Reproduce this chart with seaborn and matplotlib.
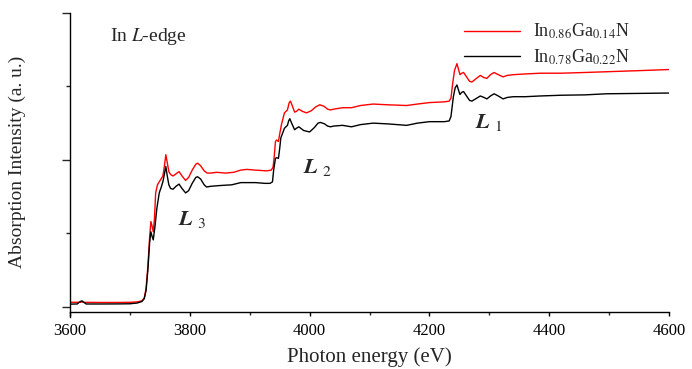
import matplotlib
matplotlib.use("Agg")
import matplotlib.pyplot as plt
import seaborn as sns
import pandas as pd
from matplotlib.lines import Line2D

# ---------------- data ----------------
energy_red = [3600, 3610, 3617, 3620, 3624, 3650, 3680, 3700, 3712, 3720, 3724, 3727, 3730, 3733,
              3735, 3737, 3739, 3741, 3743, 3746, 3749, 3752, 3755, 3757, 3760, 3762, 3765, 3768,
              3772, 3777, 3782, 3787, 3793, 3798, 3804, 3810, 3813, 3818, 3824, 3829, 3835, 3845,
              3860, 3873, 3885, 3895, 3910, 3928, 3936, 3939, 3941, 3943, 3945, 3948, 3950, 3953,
              3958, 3963, 3966, 3968, 3970, 3975, 3978, 3982, 3988, 3995, 4003, 4010, 4017, 4024,
              4030, 4035, 4040, 4055, 4070, 4085, 4106, 4130, 4162, 4180, 4200, 4225, 4233, 4236,
              4239, 4242, 4246, 4249, 4251, 4254, 4257, 4262, 4267, 4271, 4277, 4285, 4291, 4296,
              4302, 4308, 4315, 4323, 4330, 4340, 4360, 4385, 4420, 4460, 4496, 4550, 4600]
absorb_red = [0.060, 0.060, 0.060, 0.065, 0.060, 0.058, 0.058, 0.060, 0.065, 0.080, 0.12, 0.25, 0.55, 0.95,
              1.16, 1.10, 1.02, 1.20, 1.55, 1.66, 1.70, 1.74, 1.78, 1.88, 2.07, 1.98, 1.84, 1.80,
              1.78, 1.81, 1.84, 1.78, 1.72, 1.76, 1.86, 1.94, 1.955, 1.92, 1.85, 1.82, 1.82, 1.83,
              1.82, 1.83, 1.86, 1.87, 1.86, 1.85, 1.86, 1.90, 2.05, 2.25, 2.27, 2.25, 2.35, 2.48,
              2.64, 2.68, 2.78, 2.80, 2.76, 2.65, 2.66, 2.69, 2.66, 2.64, 2.67, 2.72, 2.75, 2.73,
              2.69, 2.68, 2.69, 2.71, 2.71, 2.74, 2.76, 2.75, 2.74, 2.76, 2.78, 2.79, 2.80, 2.84,
              3.05, 3.22, 3.31, 3.22, 3.16, 3.18, 3.19, 3.13, 3.07, 3.06, 3.10, 3.15, 3.12, 3.11,
              3.16, 3.19, 3.16, 3.13, 3.15, 3.16, 3.17, 3.18, 3.18, 3.19, 3.20, 3.215, 3.23]

energy_black = [3600, 3612, 3617, 3620, 3623, 3627, 3650, 3680, 3700, 3712, 3720, 3724, 3727, 3730,
                3733, 3735, 3737, 3739, 3742, 3745, 3749, 3752, 3755, 3757, 3760, 3762, 3765, 3768,
                3772, 3777, 3782, 3787, 3793, 3798, 3804, 3810, 3813, 3818, 3824, 3828, 3835, 3850,
                3870, 3885, 3895, 3910, 3925, 3934, 3938, 3940, 3943, 3945, 3948, 3950, 3952, 3958,
                3963, 3965, 3967, 3970, 3975, 3978, 3982, 3990, 4000, 4008, 4014, 4018, 4025, 4030,
                4035, 4040, 4055, 4070, 4085, 4106, 4130, 4162, 4180, 4200, 4225, 4233, 4236, 4240,
                4243, 4246, 4249, 4251, 4254, 4257, 4262, 4267, 4271, 4277, 4285, 4291, 4296, 4302,
                4308, 4315, 4323, 4330, 4340, 4360, 4385, 4420, 4460, 4496, 4550, 4600]
absorb_black = [0.035, 0.037, 0.070, 0.080, 0.060, 0.037, 0.037, 0.038, 0.040, 0.050, 0.070, 0.11, 0.22, 0.50,
                0.88, 1.02, 0.96, 0.91, 1.10, 1.34, 1.55, 1.62, 1.70, 1.78, 1.91, 1.80, 1.66, 1.61,
                1.60, 1.64, 1.67, 1.61, 1.55, 1.58, 1.68, 1.76, 1.77, 1.74, 1.66, 1.63, 1.64, 1.65,
                1.66, 1.69, 1.69, 1.69, 1.68, 1.68, 1.70, 1.86, 2.02, 2.03, 2.02, 2.15, 2.30, 2.43,
                2.47, 2.53, 2.56, 2.50, 2.41, 2.43, 2.45, 2.40, 2.38, 2.44, 2.50, 2.51, 2.49, 2.46,
                2.45, 2.46, 2.47, 2.45, 2.48, 2.50, 2.49, 2.47, 2.50, 2.52, 2.52, 2.53, 2.59, 2.86,
                2.98, 3.02, 2.94, 2.89, 2.92, 2.93, 2.87, 2.81, 2.80, 2.83, 2.87, 2.85, 2.83, 2.87,
                2.90, 2.87, 2.83, 2.85, 2.86, 2.86, 2.87, 2.88, 2.885, 2.90, 2.905, 2.91]

sample_red = r"In$_{0.86}$Ga$_{0.14}$N"
sample_black = r"In$_{0.78}$Ga$_{0.22}$N"
xticks = [3600, 3800, 4000, 4200, 4400, 4600]
edge_labels = [r"$\mathbfit{L}\ _{3}$", r"$\mathbfit{L}\ _{2}$", r"$\mathbfit{L}\ _{1}$"]
edge_pos_x = [3780, 3989, 4276]
edge_pos_y = [1.11, 1.82, 2.44]

# ---------------- figure ----------------
sns.set_theme(style="ticks")
plt.rcParams["font.family"] = ["Liberation Serif", "DejaVu Serif"]
plt.rcParams["mathtext.fontset"] = "stix"

df = pd.concat([
    pd.DataFrame({"energy": energy_red, "absorb": absorb_red, "sample": sample_red}),
    pd.DataFrame({"energy": energy_black, "absorb": absorb_black, "sample": sample_black}),
])

fig = plt.figure(figsize=(6.92, 3.69), dpi=100)
ax = fig.add_axes([70 / 692, 1 - 311.7 / 369, 599 / 692, (311.7 - 13) / 369])

sns.lineplot(data=df, x="energy", y="absorb", hue="sample",
             palette={sample_red: "#ff0000", sample_black: "#000000"},
             estimator=None, sort=False, linewidth=1.0, ax=ax, legend=False)

ax.set_xlim(3600, 4600)
ax.set_ylim(-0.068, 4.0)
ax.set_xticks(xticks)
ax.set_xticks([3700, 3900, 4100, 4300, 4500], minor=True)
ax.set_yticks([0, 2, 4])
ax.set_yticks([1, 3], minor=True)
ax.set_yticklabels([])
ax.tick_params(axis="x", which="major", direction="out", length=3, width=1, labelsize=12, pad=5, colors="black")
ax.tick_params(axis="x", which="minor", direction="out", length=2, width=1)
ax.tick_params(axis="y", which="major", direction="out", length=6, width=1)
ax.tick_params(axis="y", which="minor", direction="out", length=3, width=1)

for s in ["top", "right"]:
    ax.spines[s].set_visible(False)
for s in ["left", "bottom"]:
    ax.spines[s].set_linewidth(1.0)
    ax.spines[s].set_color("black")
ax.spines["left"].set_bounds(-0.136, 4.0)

ax.set_xlabel("Photon energy (eV)", fontsize=15, labelpad=6)
ax.set_ylabel("Absorption Intensity (a. u.)", fontsize=14, labelpad=22)

ax.text(0.067, 0.906, r"In $L$-edge", transform=ax.transAxes, fontsize=14, va="baseline", ha="left")

for lab, xx, yy in zip(edge_labels, edge_pos_x, edge_pos_y):
    ax.text(xx, yy, lab, fontsize=16, va="baseline", ha="left")

handles = [Line2D([], [], color="#ff0000", lw=1.0), Line2D([], [], color="#000000", lw=1.0)]
ax.legend(handles, [sample_red, sample_black], loc="upper left",
          bbox_to_anchor=((464 - 70) / 599, 0.97), frameon=False, fontsize=13,
          handlelength=3.1, handletextpad=0.7, borderpad=0, borderaxespad=0,
          labelspacing=0.35)

fig.savefig("out.png", dpi=100)
